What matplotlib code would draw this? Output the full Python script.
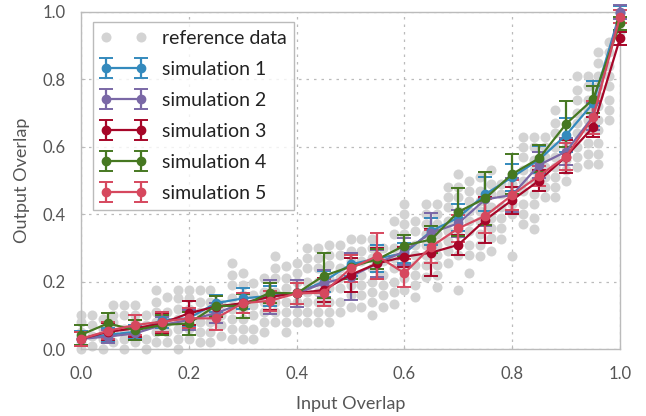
import matplotlib
matplotlib.use("Agg")
import matplotlib.pyplot as plt
import matplotlib.ticker as mticker

plt.rcParams['font.family'] = ['Lato', 'DejaVu Sans']

# ---------------- data ----------------
x_sim = [0.0, 0.05, 0.10, 0.15, 0.20, 0.25, 0.30, 0.35, 0.40, 0.45, 0.50,
         0.55, 0.60, 0.65, 0.70, 0.75, 0.80, 0.85, 0.90, 0.95, 1.0]

sim1 = [0.032, 0.042, 0.051, 0.086, 0.091, 0.136, 0.150, 0.158, 0.165, 0.200, 0.251,
        0.269, 0.284, 0.350, 0.390, 0.459, 0.510, 0.562, 0.635, 0.729, 0.998]
sim1_err = [0.02, 0.02, 0.02, 0.025, 0.025, 0.025, 0.03, 0.03, 0.03, 0.03, 0.035,
            0.04, 0.03, 0.04, 0.04, 0.05, 0.04, 0.04, 0.05, 0.067, 0.02]
sim2 = [0.030, 0.037, 0.046, 0.071, 0.086, 0.106, 0.136, 0.155, 0.165, 0.195, 0.215,
        0.254, 0.290, 0.345, 0.373, 0.444, 0.457, 0.546, 0.586, 0.690, 1.000]
sim2_err = [0.02, 0.02, 0.02, 0.025, 0.03, 0.03, 0.03, 0.05, 0.04, 0.04, 0.069,
            0.04, 0.04, 0.06, 0.04, 0.08, 0.05, 0.04, 0.04, 0.04, 0.02]
sim3 = [0.030, 0.051, 0.061, 0.076, 0.106, 0.126, 0.136, 0.155, 0.165, 0.175, 0.220,
        0.254, 0.274, 0.286, 0.309, 0.383, 0.442, 0.500, 0.571, 0.658, 0.922]
sim3_err = [0.02, 0.025, 0.025, 0.03, 0.035, 0.03, 0.03, 0.04, 0.03, 0.035, 0.05,
            0.045, 0.03, 0.07, 0.03, 0.069, 0.04, 0.03, 0.05, 0.03, 0.02]
sim4 = [0.042, 0.076, 0.056, 0.071, 0.076, 0.128, 0.128, 0.167, 0.165, 0.217, 0.244,
        0.266, 0.307, 0.325, 0.407, 0.447, 0.519, 0.566, 0.668, 0.741, 0.966]
sim4_err = [0.03, 0.03, 0.03, 0.03, 0.035, 0.03, 0.035, 0.03, 0.03, 0.067, 0.035,
            0.03, 0.03, 0.04, 0.072, 0.079, 0.059, 0.04, 0.069, 0.04, 0.02]
sim5 = [0.030, 0.054, 0.071, 0.081, 0.091, 0.091, 0.136, 0.143, 0.165, 0.167, 0.239,
        0.276, 0.225, 0.304, 0.358, 0.395, 0.457, 0.514, 0.571, 0.687, 0.986]
sim5_err = [0.02, 0.025, 0.03, 0.03, 0.03, 0.035, 0.03, 0.03, 0.03, 0.04, 0.04,
            0.067, 0.042, 0.05, 0.04, 0.05, 0.045, 0.03, 0.04, 0.05, 0.02]

ref_x = [0.00, 0.02, 0.04, 0.06, 0.08, 0.10, 0.12, 0.14, 0.16, 0.18, 0.20,
         0.22, 0.24, 0.26, 0.28, 0.30, 0.32, 0.34, 0.36, 0.38, 0.40,
         0.42, 0.44, 0.46, 0.48, 0.50, 0.52, 0.54, 0.56, 0.58, 0.60,
         0.62, 0.64, 0.66, 0.68, 0.70, 0.72, 0.74, 0.76, 0.78, 0.80,
         0.82, 0.84, 0.86, 0.88, 0.90, 0.92, 0.94, 0.96, 0.98, 1.00]
ref_y = [
    [0.0, 0.02, 0.05, 0.08, 0.1],
    [0.01, 0.04, 0.07, 0.1],
    [0.0, 0.03, 0.06, 0.09],
    [0.02, 0.05, 0.08, 0.1, 0.13],
    [0.0, 0.03, 0.06, 0.1, 0.13],
    [0.02, 0.05, 0.08, 0.1, 0.13],
    [0.0, 0.03, 0.07, 0.1],
    [0.02, 0.05, 0.08, 0.11, 0.14, 0.175],
    [0.02, 0.05, 0.08, 0.11, 0.155],
    [0.0, 0.03, 0.06, 0.09, 0.12, 0.15, 0.175],
    [0.03, 0.06, 0.09, 0.12, 0.15, 0.175],
    [0.02, 0.05, 0.08, 0.11, 0.14, 0.175],
    [0.02, 0.05, 0.08, 0.11, 0.14, 0.175],
    [0.04, 0.07, 0.1, 0.135],
    [0.03, 0.06, 0.09, 0.12, 0.15, 0.19, 0.22, 0.255],
    [0.03, 0.06, 0.09, 0.12, 0.16, 0.19, 0.225],
    [0.03, 0.06, 0.1, 0.13, 0.16, 0.195],
    [0.05, 0.08, 0.11, 0.14, 0.17, 0.21],
    [0.08, 0.11, 0.14, 0.17, 0.21, 0.24, 0.275],
    [0.05, 0.08, 0.11, 0.14, 0.18, 0.21, 0.245],
    [0.08, 0.11, 0.14, 0.17, 0.2, 0.225, 0.255],
    [0.08, 0.11, 0.14, 0.17, 0.2, 0.24, 0.27, 0.3],
    [0.08, 0.11, 0.14, 0.17, 0.2, 0.24, 0.27, 0.3],
    [0.08, 0.11, 0.14, 0.18, 0.21, 0.25, 0.28, 0.31],
    [0.11, 0.14, 0.18, 0.21, 0.24, 0.28, 0.31],
    [0.125, 0.16, 0.19, 0.22, 0.26, 0.29, 0.325],
    [0.125, 0.16, 0.19, 0.22, 0.26, 0.29, 0.325],
    [0.1, 0.14, 0.17, 0.2, 0.24, 0.27, 0.3, 0.325],
    [0.125, 0.16, 0.19, 0.22, 0.26, 0.3],
    [0.135, 0.17, 0.2, 0.24, 0.27, 0.3, 0.34, 0.38],
    [0.175, 0.21, 0.24, 0.27, 0.3, 0.34, 0.37, 0.4, 0.43],
    [0.155, 0.19, 0.22, 0.25, 0.28, 0.31, 0.35, 0.38],
    [0.215, 0.25, 0.28, 0.31, 0.34, 0.37, 0.4, 0.43],
    [0.185, 0.22, 0.25, 0.28, 0.31, 0.34, 0.37, 0.4, 0.43],
    [0.255, 0.29, 0.32, 0.35, 0.38, 0.42, 0.45, 0.48],
    [0.175, 0.28, 0.31, 0.34, 0.38, 0.41, 0.45, 0.48, 0.52],
    [0.225, 0.28, 0.31, 0.35, 0.38, 0.41, 0.44, 0.47, 0.5],
    [0.275, 0.31, 0.34, 0.38, 0.41, 0.44, 0.47, 0.51],
    [0.29, 0.33, 0.36, 0.39, 0.42, 0.46, 0.49, 0.53],
    [0.325, 0.36, 0.39, 0.42, 0.46, 0.49],
    [0.275, 0.4, 0.43, 0.46, 0.49, 0.52],
    [0.37, 0.4, 0.43, 0.47, 0.5, 0.53, 0.57, 0.6, 0.63],
    [0.355, 0.39, 0.43, 0.46, 0.5, 0.53, 0.56, 0.6, 0.63],
    [0.45, 0.48, 0.51, 0.54, 0.57, 0.6, 0.63],
    [0.45, 0.48, 0.51, 0.54, 0.57, 0.6, 0.64, 0.67, 0.71],
    [0.5, 0.53, 0.56, 0.6, 0.62],
    [0.54, 0.57, 0.6, 0.64, 0.67, 0.7, 0.74, 0.77, 0.81],
    [0.55, 0.58, 0.61, 0.65, 0.68, 0.71, 0.74, 0.78, 0.81],
    [0.55, 0.58, 0.61, 0.65, 0.68, 0.72, 0.75, 0.78, 0.81, 0.85, 0.88],
    [0.68, 0.71, 0.74, 0.78, 0.81, 0.84, 0.88, 0.91],
    [0.94, 0.97, 1.0],
]

labels = ["simulation 1", "simulation 2", "simulation 3", "simulation 4", "simulation 5"]
series = [sim1, sim2, sim3, sim4, sim5]
errors = [sim1_err, sim2_err, sim3_err, sim4_err, sim5_err]
colors = ["#348ABD", "#7A68A6", "#A60628", "#467821", "#D6485E"]
ticks = [0.0, 0.2, 0.4, 0.6, 0.8, 1.0]

# ---------------- plot ----------------
fig = plt.figure(figsize=(6.46, 4.16), dpi=100)
ax = fig.add_axes([81 / 646, 1 - 349 / 416, 539 / 646, 337 / 416])

px, py = [], []
for xv, ys in zip(ref_x, ref_y):
    for yv in ys:
        px.append(xv)
        py.append(yv)
ax.plot(px, py, 'o', color='#d3d3d3', markersize=7.2, markeredgewidth=0,
        label='reference data', zorder=1, clip_on=False)

for s, e, c, lab in zip(series, errors, colors, labels):
    ax.errorbar(x_sim, s, yerr=e, color=c, marker='o', markersize=6,
                linewidth=1.6, elinewidth=1.6, capsize=5, capthick=1.4,
                label=lab, zorder=3, clip_on=False)

ax.set_xlim(0, 1)
ax.set_ylim(0, 1)
ax.set_xticks(ticks)
ax.set_yticks(ticks)
ax.xaxis.set_major_formatter(mticker.FormatStrFormatter('%.1f'))
ax.yaxis.set_major_formatter(mticker.FormatStrFormatter('%.1f'))
ax.grid(True, color='#bbbbbb', linestyle=(0, (2, 4)), linewidth=0.9)
ax.set_axisbelow(True)
for sp in ax.spines.values():
    sp.set_color('#bbbbbb')
    sp.set_linewidth(1.0)
ax.tick_params(direction='in', length=3, color='#bbbbbb', labelcolor='#555555',
               labelsize=12)
ax.tick_params(axis='y', pad=11)
ax.tick_params(axis='x', pad=12)
ax.set_xlabel('Input Overlap', color='#555555', fontsize=13, labelpad=10)
ax.set_ylabel('Output Overlap', color='#555555', fontsize=13, labelpad=9)

leg = ax.legend(loc='upper left', numpoints=2, handlelength=2.4, handletextpad=0.75,
                fontsize=14, frameon=True, fancybox=False, edgecolor='#aaaaaa',
                borderpad=0.4, labelspacing=0.72, borderaxespad=0,
                bbox_to_anchor=(0.022, 0.97))
leg.get_frame().set_linewidth(1.0)
for t in leg.get_texts():
    t.set_color('#222222')

fig.savefig('out.png', dpi=100)
